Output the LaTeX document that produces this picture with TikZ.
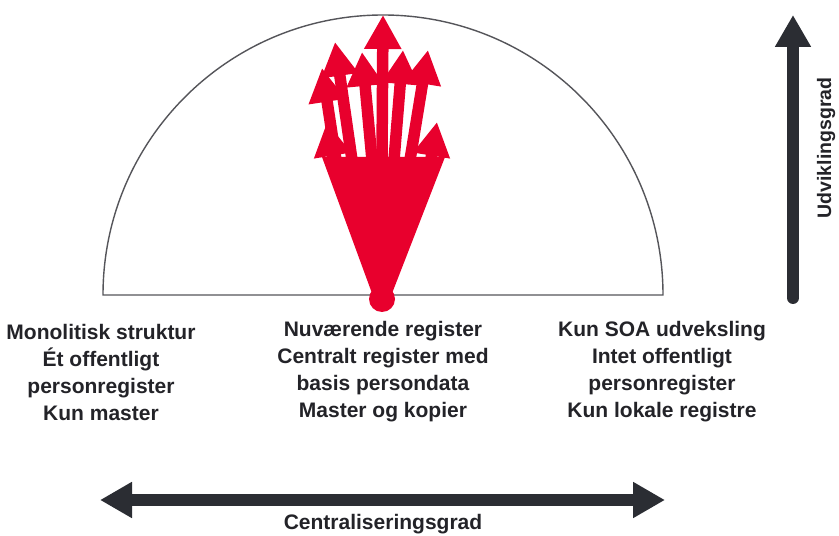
\documentclass[tikz,border=0pt]{standalone}
\usepackage{fontspec}
\setmainfont{Liberation Sans}
\usetikzlibrary{arrows.meta,calc}
\definecolor{fanred}{RGB}{232,0,45}
\definecolor{axisdark}{RGB}{43,45,51}
\definecolor{rimgray}{RGB}{85,85,90}
\definecolor{inkdark}{RGB}{35,35,40}
\begin{document}
\begin{tikzpicture}[x=1pt,y=1pt,
  label/.style={font=\bfseries\fontsize{21}{27}\selectfont, align=center, text=inkdark, inner sep=0pt},
  axis/.style={draw=axisdark, line width=12pt, -{Triangle[width=34pt,length=32pt]}},
  fanarrow/.style={draw=fanred, line width=11.5pt, -{Triangle[width=35pt,length=34pt]}}]
\useasboundingbox (0,0) rectangle (839,536);
\fill[white] (0,0) rectangle (839,536);

% half dial
\draw[rimgray, line width=1.4pt] (103,241) -- (663,241) arc[start angle=0, end angle=180, radius=280] -- cycle;

% red fan rising from the current register
\coordinate (hub) at (382,237);
\fill[fanred] (373,240) -- (322,379) -- (445,379) -- (391,240) -- cycle;
\foreach \fx/\fy/\tx/\ty in {382/376/383/521, 372/376/362/484, 352/376/335/494,
                             336/376/322/468, 394/376/403/486, 410/376/428/486,
                             430/371/437/414, 334/371/327/414}{
  \coordinate (foot) at (\fx,\fy);
  \coordinate (tip) at (\tx,\ty);
  \draw[fanarrow] (foot) -- (tip);
}
\fill[fanred] (hub) circle[radius=13];

% column texts
\node[label] (mono) at (101,164) {Monolitisk struktur\\Ét offentligt\\personregister\\Kun master};
\node[label] (nuv) at (383,164) {Nuværende register\\Centralt register med\\basis persondata\\Master og kopier};
\node[label] (soa) at (662,164) {Kun SOA udveksling\\Intet offentligt\\personregister\\Kun lokale registre};

% axis of development
\coordinate (vlow) at (793,238);
\coordinate (vhigh) at (793,521);
\draw[axis, line cap=round] (vlow) -- (vhigh);
\node[label, font=\bfseries\fontsize{19.5}{24}\selectfont, rotate=90] (udv) at (826,388) {Udviklingsgrad};

% axis of centralisation
\coordinate (hleft) at (100,36);
\coordinate (hright) at (665,36);
\draw[axis, {Triangle[width=34pt,length=32pt]}-{Triangle[width=34pt,length=32pt]}] (hleft) -- (hright);
\node[label] (cen) at (383,12) {Centraliseringsgrad};
\end{tikzpicture}
\end{document}
